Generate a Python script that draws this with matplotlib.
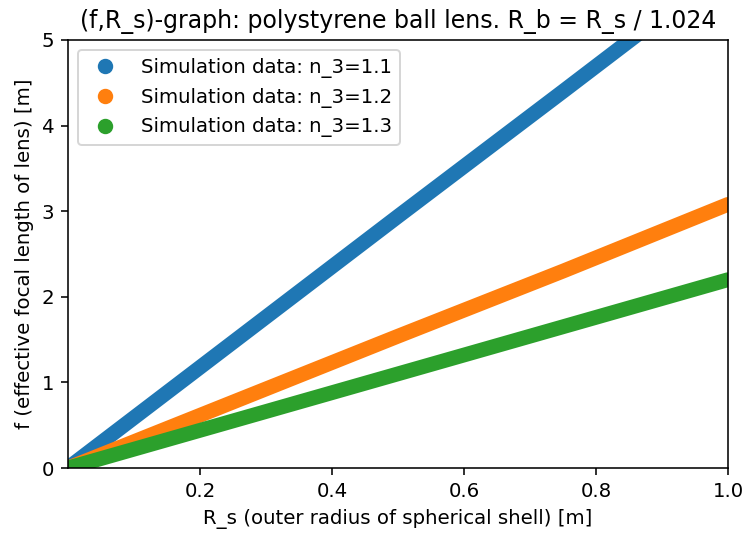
import matplotlib
matplotlib.use("Agg")
import matplotlib.pyplot as plt
from matplotlib.lines import Line2D

# Data (f vs R_s, nearly linear)
R_s = [0.005, 0.25, 0.5, 0.75, 1.0]
f_n11 = [0.03, 1.47, 2.94, 4.40, 5.87]
f_n12 = [0.015, 0.77, 1.54, 2.30, 3.08]
f_n13 = [0.011, 0.55, 1.10, 1.65, 2.20]

labels = ["Simulation data: n_3=1.1", "Simulation data: n_3=1.2", "Simulation data: n_3=1.3"]
colors = ["#1f77b4", "#ff7f0e", "#2ca02c"]
xticks = [0.2, 0.4, 0.6, 0.8, 1.0]
yticks = [0, 1, 2, 3, 4, 5]

dpi = 142
fig = plt.figure(figsize=(747 / dpi, 533 / dpi), dpi=dpi)
ax = fig.add_axes([68 / 747, 1 - 468 / 533, 660 / 747, 428 / 533])

handles = []
for y, c, lab in zip([f_n11, f_n12, f_n13], colors, labels):
    ax.plot(R_s, y, '-', color=c, lw=7.5, solid_capstyle='round')
    handles.append(Line2D([], [], ls='', marker='o', ms=6.8, color=c, label=lab))

ax.set_xlim(0.0, 1.0)
ax.set_ylim(0, 5)
ax.set_xticks(xticks)
ax.set_xticklabels(["0.2", "0.4", "0.6", "0.8", "1.0"])
ax.set_yticks(yticks)
ax.set_title("(f,R_s)-graph: polystyrene ball lens. R_b = R_s / 1.024")
ax.set_xlabel("R_s (outer radius of spherical shell) [m]")
ax.set_ylabel("f (effective focal length of lens) [m]")
ax.legend(handles=handles, loc="upper left")

fig.savefig("out.png", dpi=dpi)
